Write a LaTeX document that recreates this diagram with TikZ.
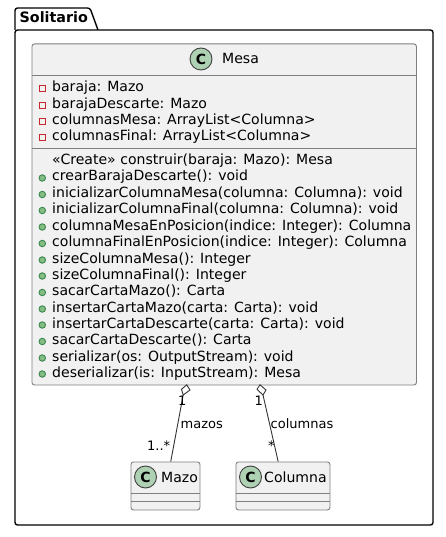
\documentclass[tikz,border=0pt]{standalone}
\usepackage{fontspec}
\setmainfont{DejaVu Sans}
\usetikzlibrary{calc}
\definecolor{boxfill}{HTML}{F1F1F1}
\definecolor{boxline}{HTML}{7F7F7F}
\definecolor{circfill}{HTML}{ADD1B2}
\definecolor{privred}{HTML}{C82930}
\definecolor{pubgreen}{HTML}{84BE84}
\definecolor{publine}{HTML}{38864B}
\tikzset{
  x=1pt,y=-1pt,
  classbox/.style={draw=boxline,fill=boxfill,line width=0.9pt,rounded corners=2.5pt,inner sep=0pt,anchor=north west},
  divider/.style={draw=boxline,line width=0.9pt},
  badge/.style={circle,draw=black!75,fill=circfill,line width=0.9pt,minimum size=22pt,inner sep=0pt,font=\fontsize{14}{14}\bfseries\selectfont},
  txt/.style={anchor=base west,inner sep=0pt,font=\fontsize{14.05}{14}\selectfont,text=black},
  small/.style={anchor=base west,inner sep=0pt,font=\fontsize{13}{13}\selectfont,text=black},
  priv/.style={draw=privred,line width=0.9pt,fill=none,minimum size=6pt,inner sep=0pt,rectangle},
  pub/.style={draw=publine,line width=0.9pt,fill=pubgreen,minimum size=6.5pt,inner sep=0pt,circle},
  link/.style={draw=black!80,line width=0.9pt},
  pkg/.style={draw=black,line width=1.4pt,fill=white,line join=round},
}
\begin{document}
\begin{tikzpicture}
\useasboundingbox (0,0) rectangle (446,537);
\fill[white] (0,0) rectangle (446,537);
% package
\path[pkg] (15,30) -- (15,11) [rounded corners=2.5pt] -- (15,8) -- (90,8) [sharp corners] -- (98,30) -- (98,30);
\path[pkg,rounded corners=2.5pt] (15,30) -- (433,30) -- (433,525) -- (15,525) -- cycle;
\node[anchor=base west,inner sep=0pt,font=\fontsize{14.3}{14}\bfseries\selectfont] (pkgname) at (19.5,23) {Solitario};
% Mesa
\node[classbox,minimum width=384.5pt,minimum height=341pt] (mesa) at (31.5,43.5) {};
\draw[divider] (31.5,75) -- (416,75);
\draw[divider] (31.5,148.5) -- (416,148.5);
\node[badge] (mesac) at (201,59) {C};
\node[txt] (mesat) at (222,64) {Mesa};
\foreach \n/\y/\t in {
 a1/92/{baraja: Mazo},
 a2/108.5/{barajaDescarte: Mazo},
 a3/125/{columnasMesa: ArrayList<Columna>},
 a4/141/{columnasFinal: ArrayList<Columna>}}{
  \node[txt] (\n) at (52,\y) {\t};
  \node[priv] (\n i) at (42.3,\y-3.5) {};
}
\node[txt] (m0) at (52,165) {«Create» construir(baraja: Mazo): Mesa};
\foreach \n/\y/\t in {
 m1/181/{crearBarajaDescarte(): void},
 m2/197.5/{inicializarColumnaMesa(columna: Columna): void},
 m3/213.5/{inicializarColumnaFinal(columna: Columna): void},
 m4/230/{columnaMesaEnPosicion(indice: Integer): Columna},
 m5/246.5/{columnaFinalEnPosicion(indice: Integer): Columna},
 m6/263/{sizeColumnaMesa(): Integer},
 m7/279/{sizeColumnaFinal(): Integer},
 m8/295.5/{sacarCartaMazo(): Carta},
 m9/312/{insertarCartaMazo(carta: Carta): void},
 m10/328/{insertarCartaDescarte(carta: Carta): void},
 m11/344.5/{sacarCartaDescarte(): Carta},
 m12/361/{serializar(os: OutputStream): void},
 m13/377/{deserializar(is: InputStream): Mesa}}{
  \node[txt] (\n) at (52,\y) {\t};
  \node[pub] (\n i) at (42.3,\y-3) {};
}
% Mazo
\node[classbox,minimum width=69pt,minimum height=48pt] (mazo) at (130.5,461.5) {};
\draw[divider] (130.5,493) -- (199.5,493);
\draw[divider] (130.5,501) -- (199.5,501);
\node[badge] (mazoc) at (145.5,477) {C};
\node[txt] (mazot) at (161,482) {Mazo};
% Columna
\node[classbox,minimum width=94pt,minimum height=48pt] (col) at (235.5,461.5) {};
\draw[divider] (235.5,493) -- (329.5,493);
\draw[divider] (235.5,501) -- (329.5,501);
\node[badge] (colc) at (250.5,477) {C};
\node[txt] (colt) at (264,482) {Columna};
% connectors
\coordinate (d1) at (183.2,395);
\coordinate (d2) at (263,395);
\draw[link] (d1) -- ([xshift=5.3pt]mazo.north);
\draw[link] (d2) -- ([xshift=-4.8pt]col.north);
\draw[link,fill=white] (186.7,384.8) -- (190,390) -- (d1) -- (181.5,389.3) -- cycle;
\draw[link,fill=white] (260,384.8) -- (266,390) -- (d2) -- (257,389.3) -- cycle;
% labels
\node[small] (l1) at (178,405) {1};
\node[small] (l2) at (180.5,428) {mazos};
\node[small] (l3) at (147,450) {1..*};
\node[small] (l4) at (254.5,405) {1};
\node[small] (l5) at (270.5,428) {columnas};
\node[small] (l6) at (268,450) {*};
\end{tikzpicture}
\end{document}
